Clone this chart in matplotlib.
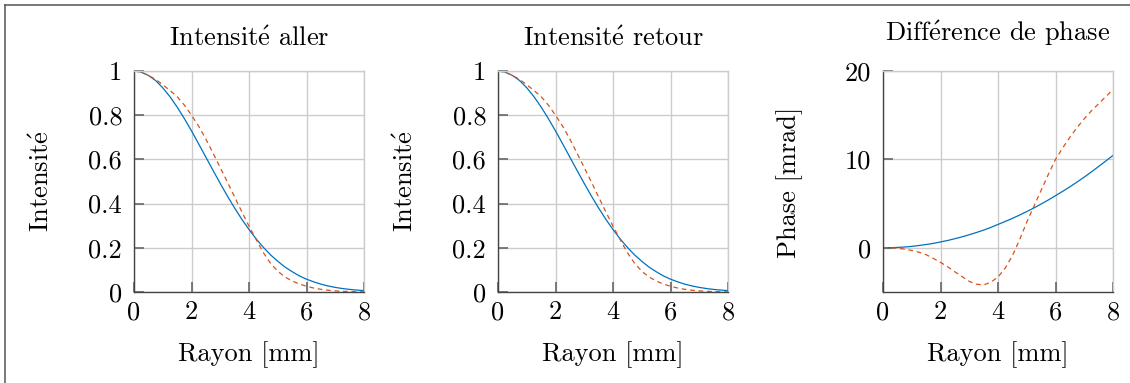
import numpy as np
import matplotlib
matplotlib.use("Agg")
import matplotlib.pyplot as plt
from matplotlib.lines import Line2D

plt.rcParams['font.family'] = ['cmr10', 'DejaVu Serif']
plt.rcParams['mathtext.fontset'] = 'cm'
plt.rcParams['axes.formatter.use_mathtext'] = True
plt.rcParams['font.size'] = 19

# radius grid [mm]
rayon = [0, 0.25, 0.5, 0.75, 1, 1.25, 1.5, 1.75, 2, 2.25, 2.5, 2.75, 3, 3.25, 3.5, 3.75,
         4, 4.25, 4.5, 4.75, 5, 5.25, 5.5, 5.75, 6, 6.25, 6.5, 6.75, 7, 7.25, 7.5, 7.75, 8]

# intensity, blue (solid) and red (dashed) -- same shape for aller and retour
int_bleu = [1.0, 0.995, 0.980, 0.957, 0.924, 0.884, 0.837, 0.785, 0.729, 0.670, 0.610,
            0.550, 0.491, 0.434, 0.380, 0.329, 0.283, 0.240, 0.202, 0.168, 0.139, 0.113,
            0.092, 0.073, 0.058, 0.046, 0.0355, 0.0273, 0.0208, 0.0157, 0.0117, 0.0087, 0.0064]
int_rouge = [1.0, 0.995, 0.980, 0.962, 0.938, 0.912, 0.884, 0.846, 0.80, 0.750, 0.692,
             0.628, 0.563, 0.497, 0.430, 0.363, 0.298, 0.237, 0.178, 0.130, 0.094, 0.068,
             0.050, 0.036, 0.026, 0.018, 0.012, 0.008, 0.005, 0.003, 0.002, 0.001, 0.0005]

# phase difference [mrad]
phase_bleu = [0, 0.01, 0.04, 0.09, 0.16, 0.26, 0.37, 0.50, 0.66, 0.83, 1.03, 1.24, 1.48,
              1.73, 2.0, 2.31, 2.64, 2.98, 3.33, 3.70, 4.1, 4.51, 4.95, 5.41, 5.9, 6.39,
              6.9, 7.44, 8.0, 8.59, 9.2, 9.82, 10.45]
phase_rouge = [0, -0.01, -0.05, -0.15, -0.3, -0.5, -0.78, -1.2, -1.65, -2.15, -2.72, -3.25,
               -3.8, -4.12, -4.2, -3.9, -3.3, -2.3, -0.9, 0.9, 2.9, 4.7, 6.5, 8.3, 10.0,
               11.3, 12.5, 13.6, 14.6, 15.5, 16.3, 17.1, 17.9]

BLEU = '#0072BD'
ROUGE = '#D95319'
GRILLE = '#cccccc'
AXE = '#444444'

E = r'$\mathrm{\acute{e}}$'   # é drawn with the Computer Modern accent

W, H = 1130, 383
fig = plt.figure(figsize=(W / 100, H / 100), dpi=100)


def make_axes(left, ylim, yticks, yticklabels):
    ax = fig.add_axes([left / W, (H - 292) / H, 230 / W, 221 / H])
    ax.set_xlim(0, 8)
    ax.set_ylim(*ylim)
    ax.set_xticks([0, 2, 4, 6, 8])
    ax.set_xticklabels(['0', '2', '4', '6', '8'])
    ax.set_yticks(yticks)
    ax.set_yticklabels(yticklabels)
    ax.grid(True, color=GRILLE, lw=1.0)
    ax.set_axisbelow(True)
    for s in ['top', 'right']:
        ax.spines[s].set_color(GRILLE)
        ax.spines[s].set_linewidth(1.0)
    for s in ['left', 'bottom']:
        ax.spines[s].set_color(AXE)
        ax.spines[s].set_linewidth(1.0)
    ax.tick_params(direction='in', length=7, width=1.2, color='#666666',
                   top=False, right=False)
    ax.tick_params(axis='x', pad=6)
    ax.tick_params(axis='y', pad=8.5)
    return ax


def courbes(ax, bleu, rouge):
    ax.plot(rayon, bleu, color=BLEU, lw=0.9)
    ax.plot(rayon, rouge, color=ROUGE, lw=0.9, dashes=(3.8, 3.0))


int_ticks = [0, 0.2, 0.4, 0.6, 0.8, 1]
int_labels = ['0', '0.2', '0.4', '0.6', '0.8', '1']

ax1 = make_axes(134, (0, 1), int_ticks, int_labels)
courbes(ax1, int_bleu, int_rouge)
ax2 = make_axes(498, (0, 1), int_ticks, int_labels)
courbes(ax2, int_bleu, int_rouge)
ax3 = make_axes(883, (-5, 20), [0, 10, 20], ['0', '10', '20'])
courbes(ax3, phase_bleu, phase_rouge)

# titles and labels, placed in pixel coords
def txt(x, y, s, **kw):
    fig.text(x / W, 1 - y / H, s, **kw)

txt(249, 46, 'Intensit' + E + ' aller', ha='center', va='baseline')
txt(613, 46, 'Intensit' + E + ' retour', ha='center', va='baseline')
txt(998, 41, 'Diff' + E + 'rence de phase', ha='center', va='baseline')
for cx in [249, 613, 998]:
    txt(cx, 361, 'Rayon [mm]', ha='center', va='baseline')
txt(42, 181, 'Intensit' + E, rotation=90, ha='center', va='center')
txt(406, 181, 'Intensit' + E, rotation=90, ha='center', va='center')
txt(790, 182, 'Phase [mrad]', rotation=90, ha='center', va='center')

# frame around the figure (left and top edges visible)
fig.add_artist(Line2D([5 / W, 5 / W], [0, 1 - 4.7 / H], color='#555555', lw=1.1))
fig.add_artist(Line2D([5 / W, 1], [1 - 4.7 / H, 1 - 4.7 / H], color='#555555', lw=1.1))

fig.savefig('out.png', dpi=100)
